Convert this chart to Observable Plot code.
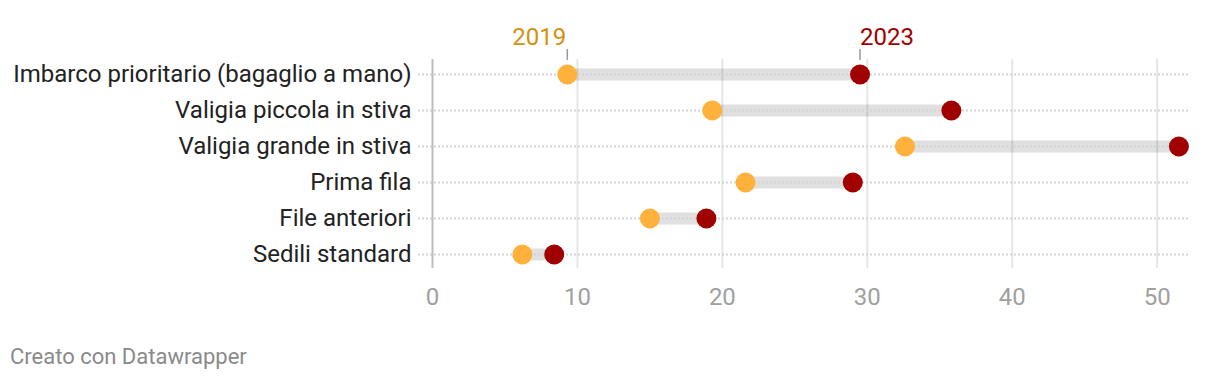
<!DOCTYPE html>
<html><head><meta charset="utf-8">
<script src="https://cdn.jsdelivr.net/npm/d3@7"></script>
<script src="https://cdn.jsdelivr.net/npm/@observablehq/plot@0.6"></script>
<style>
body{margin:0;background:#fff;font-family:Roboto,sans-serif;}
#caption{font-size:22px;line-height:26px;color:#8a8a8a;margin:24px 0 0 10px;}
</style></head><body>
<div id="chart"></div>
<div id="caption">Creato con Datawrapper</div>
<script>
const categories = ["Imbarco prioritario (bagaglio a mano)","Valigia piccola in stiva","Valigia grande in stiva","Prima fila","File anteriori","Sedili standard"];
const values2019 = [9.3, 19.3, 32.6, 21.6, 15.0, 6.2];
const values2023 = [29.5, 35.8, 51.5, 29.0, 18.9, 8.4];
const xTicks = [0,10,20,30,40,50];
const seriesLabels = ["2019","2023"];

const rows = categories.map((c,i)=>({cat:c, a:values2019[i], b:values2023[i]}));
const lab2019 = [{cat:categories[0], x:values2019[0], text:seriesLabels[0]}];
const lab2023 = [{cat:categories[0], x:values2023[0], text:seriesLabels[1]}];

const chart = Plot.plot({
  width:1220, height:320,
  marginLeft:432, marginRight:30, marginTop:59, marginBottom:52,
  style:{fontFamily:"Roboto, sans-serif", fontSize:"24px", background:"#fff"},
  x:{domain:[0,52.3], ticks:xTicks, label:null},
  y:{type:"point", domain:categories, padding:0.33, label:null},
  marks:[
    Plot.ruleY(rows,{y:"cat", x1:"a", x2:"b", stroke:"#e0e0e0", strokeWidth:12}),
    Plot.gridX(xTicks.filter(d=>d>0),{stroke:"#000", strokeOpacity:0.1, strokeWidth:2}),
    Plot.ruleY(categories,{y:d=>d, stroke:"#d4d4d4", strokeWidth:2, strokeDasharray:"2,2", insetLeft:-14, insetRight:2}),
    Plot.ruleX([0],{stroke:"#bdbdbd", strokeWidth:2}),
    Plot.axisX({ticks:xTicks, tickSize:0, tickPadding:19, fill:"#a0a0a0", fontSize:24, label:null}),
    Plot.axisY({tickSize:0, tickPadding:21, fill:"#222", fontSize:24, label:null}),
    Plot.dot(rows,{x:"a", y:"cat", r:10, fill:"#ffb13b"}),
    Plot.dot(rows,{x:"b", y:"cat", r:10, fill:"#a00000"}),
    Plot.ruleX(lab2019.concat(lab2023),{x:"x", y1:"cat", y2:"cat", insetTop:-25, insetBottom:14, stroke:"#999", strokeWidth:1.5}),
    Plot.text(lab2019,{x:"x", y:"cat", text:"text", fill:"#d4900f", textAnchor:"end", dx:-1, dy:-37, fontSize:24}),
    Plot.text(lab2023,{x:"x", y:"cat", text:"text", fill:"#a00000", textAnchor:"start", dx:0, dy:-37, fontSize:24})
  ]
});
document.getElementById("chart").append(chart);
</script></body></html>
